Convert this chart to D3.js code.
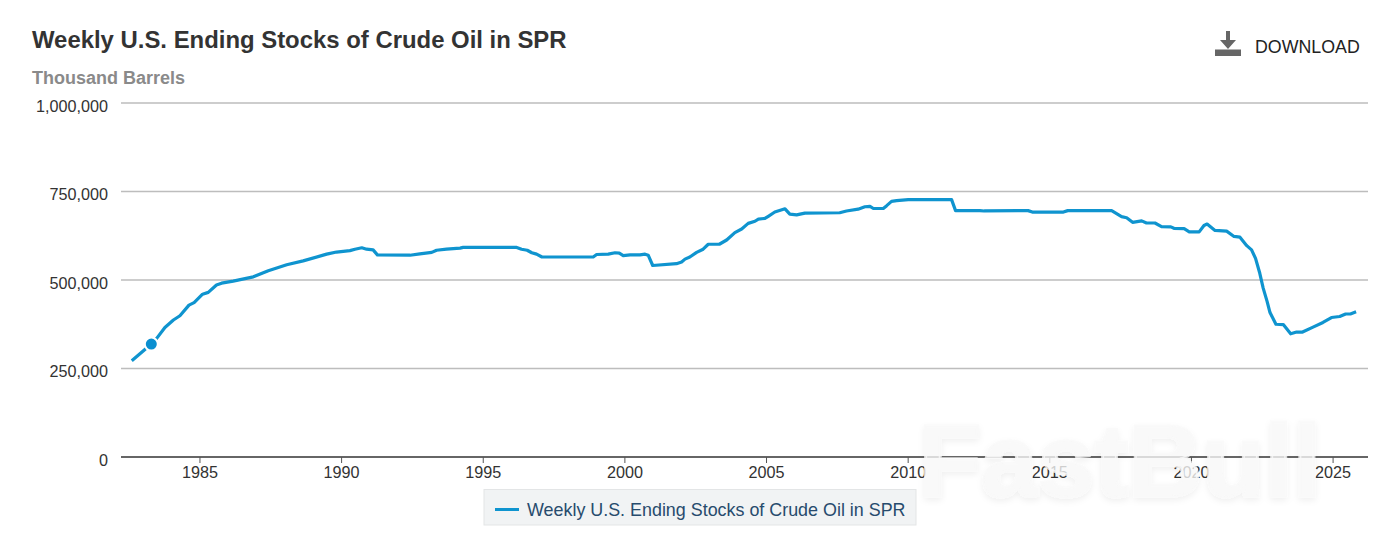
<!DOCTYPE html>
<html>
<head>
<meta charset="utf-8">
<script src="https://cdn.jsdelivr.net/npm/d3@7"></script>
<style>
  html, body { margin: 0; padding: 0; background: #fff; }
  svg { display: block; font-family: "Liberation Sans", Arial, sans-serif; }
</style>
</head>
<body>
<div id="chart"></div>
<script>
var seriesName = "Weekly U.S. Ending Stocks of Crude Oil in SPR";
var unitName = "Thousand Barrels";
var yearTicks = [1985, 1990, 1995, 2000, 2005, 2010, 2015, 2020, 2025];
var stockTicks = [0, 250000, 500000, 750000, 1000000];
var hoverPoint = [1983.3, 319000];

var years = [1982.61, 1983.3, 1983.49, 1983.78, 1984.08, 1984.31, 1984.63, 1984.81, 1985.11, 1985.31,
  1985.6, 1985.78, 1986.19, 1986.9, 1987.43, 1988.08, 1988.66, 1989.49, 1989.84, 1990.31,
  1990.49, 1990.73, 1990.9, 1991.13, 1991.28, 1992.43, 1992.78, 1993.2, 1993.37, 1993.72,
  1994.2, 1994.31, 1996.2, 1996.37, 1996.57, 1996.73, 1996.9, 1997.09, 1998.9, 1999.02,
  1999.43, 1999.67, 1999.82, 1999.96, 2000.2, 2000.55, 2000.73, 2000.84, 2001.0, 2001.84,
  2002.02, 2002.14, 2002.31, 2002.55, 2002.78, 2002.96, 2003.35, 2003.61, 2003.9, 2004.14,
  2004.37, 2004.61, 2004.73, 2004.96, 2005.08, 2005.31, 2005.67, 2005.84, 2006.08, 2006.37,
  2007.6, 2007.84, 2008.25, 2008.49, 2008.67, 2008.79, 2009.14, 2009.26, 2009.43, 2009.61,
  2010.02, 2011.55, 2011.69, 2012.55, 2012.7, 2014.25, 2014.4, 2015.5, 2015.65, 2017.2,
  2017.55, 2017.73, 2017.94, 2018.26, 2018.43, 2018.73, 2018.96, 2019.29, 2019.4, 2019.76,
  2019.94, 2020.29, 2020.46, 2020.57, 2020.85, 2021.26, 2021.52, 2021.73, 2021.97, 2022.14,
  2022.28, 2022.43, 2022.55, 2022.69, 2022.79, 2023.0, 2023.26, 2023.52, 2023.73, 2023.94,
  2024.31, 2024.66, 2024.96, 2025.25, 2025.46, 2025.63, 2025.83];

var stocks = [272, 319, 335, 366, 387, 399, 429, 436, 460, 465,
  486, 491, 497, 509, 526, 543, 554, 573, 579, 583,
  587, 591, 587, 585, 571, 570, 574, 578, 584, 587,
  590, 592, 592, 587, 584, 577, 573, 565, 565, 572,
  573, 577, 576, 569, 571, 571, 573, 570, 541, 546,
  551, 559, 565, 578, 587, 601, 601, 613, 634, 644,
  660, 666, 672, 674, 680, 692, 701, 686, 684, 689,
  690, 695, 700, 707, 708, 702, 702, 710, 722, 724,
  727, 727, 696, 696, 695, 696, 692, 692, 696, 696,
  679, 676, 663, 667, 661, 661, 651, 650, 646, 645,
  636, 636, 654, 658, 640, 638, 623, 621, 597, 585,
  561, 519, 477, 439, 408, 375, 374, 348, 353, 353,
  367, 380, 394, 397, 404, 404, 410];

var width = 1400, height = 560;
var lineColor = "#0f94cf";

var svg = d3.select("#chart").append("svg")
    .attr("width", width)
    .attr("height", height);

var x = d3.scaleLinear().domain([1982.23, 2026.25]).range([121, 1368]);
var y = d3.scaleLinear().domain([0, 1000000]).range([457, 103]);

// header
svg.append("text")
    .attr("x", 32).attr("y", 48)
    .attr("font-size", "23.9px")
    .attr("font-weight", "bold")
    .attr("fill", "#333")
    .text(seriesName);

svg.append("text")
    .attr("x", 32).attr("y", 84)
    .attr("font-size", "18px")
    .attr("font-weight", "bold")
    .attr("fill", "#8a8a8a")
    .text(unitName);

// download button
var download = svg.append("g");
download.append("path")
    .attr("d", "M1226 31 H1230 V40 H1236 L1228 49 L1220 40 H1226 Z M1215 49.5 H1241 V56 H1215 Z")
    .attr("fill", "#666");
download.append("text")
    .attr("x", 1255).attr("y", 52.5)
    .attr("font-size", "17.8px")
    .attr("fill", "#222")
    .text("DOWNLOAD");

// y axis with full width grid lines
var yAxis = d3.axisLeft(y)
    .tickValues(stockTicks)
    .tickSize(0)
    .tickPadding(13)
    .tickFormat(d3.format(","));

var yG = svg.append("g")
    .attr("transform", "translate(121,0)")
    .call(yAxis);
yG.select(".domain").remove();
yG.selectAll("text")
    .attr("dy", "0.5em")
    .attr("font-size", "16.2px")
    .attr("fill", "#333")
    .attr("font-family", "inherit");

svg.append("g").selectAll("line")
    .data(stockTicks.filter(function(d){ return d > 0; }))
    .enter()
    .append("line")
    .attr("x1", 121)
    .attr("x2", 1368)
    .attr("y1", function(d){ return y(d); })
    .attr("y2", function(d){ return y(d); })
    .attr("stroke", "#bdbdbd")
    .attr("stroke-width", 1.5);

// x axis
var xAxis = d3.axisBottom(x)
    .tickValues(yearTicks)
    .tickSize(6)
    .tickPadding(3)
    .tickFormat(d3.format("d"));

var xG = svg.append("g")
    .attr("transform", "translate(0,457)")
    .call(xAxis);
xG.select(".domain").attr("stroke", "#333").attr("stroke-width", 1.5).attr("d", "M121,0H1368");
xG.selectAll("line").attr("stroke", "#555");
xG.selectAll("text").attr("font-size", "16.2px").attr("fill", "#333").attr("font-family", "inherit");

// series
var line = d3.line()
    .x(function(d){ return x(d[0]); })
    .y(function(d){ return y(d[1] * 1000); });

svg.append("path")
    .datum(d3.zip(years, stocks))
    .attr("fill", "none")
    .attr("stroke", lineColor)
    .attr("stroke-width", 3.2)
    .attr("stroke-linejoin", "round")
    .attr("d", line);

svg.append("circle")
    .attr("cx", x(hoverPoint[0]))
    .attr("cy", y(hoverPoint[1]))
    .attr("r", 6.5)
    .attr("fill", "#0b8fd0")
    .attr("stroke", "#fff")
    .attr("stroke-width", 2);

// legend
var legend = svg.append("g");
legend.append("rect")
    .attr("x", 484).attr("y", 489.5)
    .attr("width", 432).attr("height", 35.5)
    .attr("fill", "#f1f3f4")
    .attr("stroke", "#e3e5e6");
legend.append("line")
    .attr("x1", 495).attr("x2", 519)
    .attr("y1", 509.5).attr("y2", 509.5)
    .attr("stroke", lineColor)
    .attr("stroke-width", 3);
legend.append("text")
    .attr("x", 527).attr("y", 515.5)
    .attr("font-size", "17.9px")
    .attr("fill", "#274b6d")
    .text(seriesName);

// watermark
var defs = svg.append("defs");
var blur = defs.append("filter").attr("id", "wm").attr("x", "-5%").attr("y", "-20%").attr("width", "110%").attr("height", "140%");
blur.append("feDropShadow")
    .attr("dx", 0).attr("dy", 3)
    .attr("stdDeviation", 3)
    .attr("flood-color", "#000")
    .attr("flood-opacity", 0.07);

svg.append("text")
    .attr("x", 1120).attr("y", 496)
    .attr("text-anchor", "middle")
    .attr("font-size", "102px")
    .attr("font-weight", "bold")
    .attr("fill", "#f8f8f8")
    .attr("fill-opacity", 0.78)
    .attr("stroke", "#f8f8f8")
    .attr("stroke-opacity", 0.78)
    .attr("stroke-width", 3)
    .attr("paint-order", "stroke")
    .attr("filter", "url(#wm)")
    .text("FastBull");
</script>
</body>
</html>
